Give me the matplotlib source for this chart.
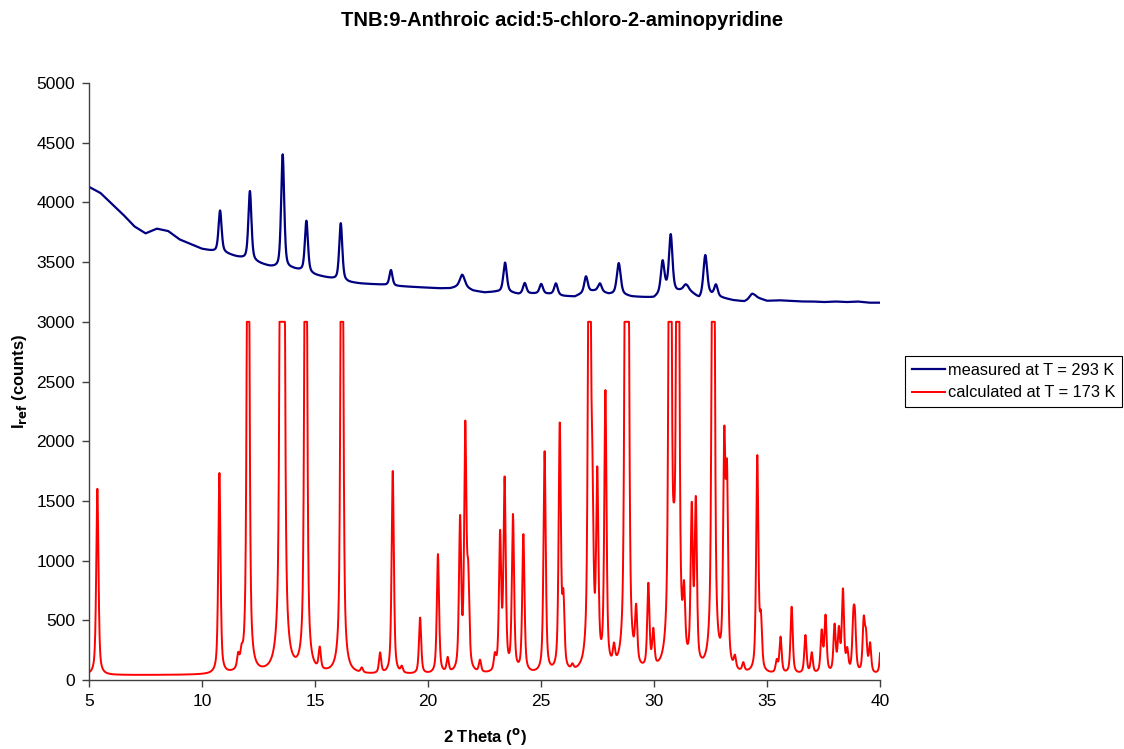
import numpy as np
import matplotlib
matplotlib.use("Agg")
import matplotlib.pyplot as plt

plt.rcParams['font.family'] = ['Liberation Sans', 'DejaVu Sans']

# ---------------- data ----------------
# measured pattern (T = 293 K): background points (2theta, counts) and peaks
meas_bg_x = [5.0, 5.5, 6.0, 6.5, 7.0, 7.5, 8.0, 8.5, 9.0, 9.5, 10.0, 10.5, 11.0, 11.5,
             12.0, 12.5, 13.0, 13.5, 14.0, 14.5, 15.0, 15.5, 16.0, 16.5, 17.0, 17.5,
             18.0, 18.5, 19.0, 19.5, 20.0, 20.5, 21.0, 21.5, 22.0, 22.5, 23.0, 23.5,
             24.0, 24.5, 25.0, 25.5, 26.0, 26.5, 27.0, 27.5, 28.0, 28.5, 29.0, 29.5,
             30.0, 30.5, 31.0, 31.5, 32.0, 32.5, 33.0, 33.5, 34.0, 34.5, 35.0, 35.5,
             36.0, 36.5, 37.0, 37.5, 38.0, 38.5, 39.0, 39.5, 40.0]
meas_bg_y = [4130, 4080, 3990, 3900, 3800, 3740, 3780, 3760, 3690, 3650, 3610, 3590, 3575, 3545,
             3520, 3490, 3460, 3440, 3440, 3420, 3390, 3370, 3350, 3330, 3320, 3315,
             3310, 3300, 3295, 3290, 3285, 3280, 3280, 3300, 3260, 3245, 3250, 3250,
             3230, 3235, 3235, 3230, 3215, 3210, 3250, 3260, 3230, 3230, 3210, 3205,
             3200, 3260, 3250, 3270, 3190, 3220, 3200, 3180, 3170, 3205, 3175, 3180,
             3175, 3170, 3170, 3165, 3170, 3165, 3170, 3160, 3160]
meas_pk_pos = [10.80, 12.12, 13.57, 14.62, 16.14, 18.36, 21.52, 23.41, 24.28, 25.01,
               25.66, 26.99, 27.61, 28.44, 30.38, 30.74, 31.40, 32.27, 32.74, 34.34]
meas_pk_h = [350, 580, 960, 430, 480, 130, 95, 245, 90, 80,
             95, 130, 65, 260, 255, 470, 40, 350, 95, 40]
meas_pk_w = [0.08, 0.08, 0.08, 0.08, 0.08, 0.08, 0.13, 0.09, 0.09, 0.09,
             0.09, 0.09, 0.09, 0.10, 0.09, 0.09, 0.11, 0.10, 0.09, 0.13]

# calculated pattern (T = 173 K): peak positions and heights (plot clipped at 3000)
calc_pk_pos = [5.37, 10.77, 11.60, 11.75, 12.04, 13.50, 13.60, 14.59, 15.21, 16.19,
               17.07, 17.88, 18.44, 18.84, 19.65, 20.44, 20.87, 21.42, 21.65, 21.78,
               22.30, 22.96, 23.19, 23.39, 23.76, 24.22, 25.16, 25.83, 25.99, 26.39,
               27.14, 27.27, 27.49, 27.85, 28.23, 28.75, 28.84, 29.21, 29.75, 29.97,
               30.71, 30.88, 31.05, 31.33, 31.67, 31.85, 32.62, 33.11, 33.23, 33.58,
               33.95, 34.57, 34.73, 35.43, 35.60, 36.09, 36.70, 36.98, 37.42, 37.59,
               37.99, 38.18, 38.36, 38.55, 38.82, 38.89, 39.28, 39.38, 39.56, 40.05]
calc_pk_h = [1560, 1680, 110, 100, 6000, 7000, 7000, 6500, 180, 6500,
             40, 170, 1700, 50, 470, 1000, 120, 1250, 2000, 700,
             100, 120, 1120, 1580, 1300, 1150, 1850, 2050, 550, 40,
             6000, 1200, 1550, 2300, 150, 5000, 5000, 450, 700, 300,
             8000, 400, 8000, 500, 1280, 1350, 8000, 1800, 1500, 100,
             70, 1800, 400, 100, 300, 560, 320, 170, 340, 470, 390,
             340, 680, 170, 380, 380, 420, 280, 240, 300]
calc_bg = 40
calc_clip = 3000
calc_hw = 0.058

y_ticks = [0, 500, 1000, 1500, 2000, 2500, 3000, 3500, 4000, 4500, 5000]
x_ticks = [5, 10, 15, 20, 25, 30, 35, 40]


def pvoigt(x, pos, h, hw, eta=0.6):
    d = (x - pos) / hw
    lor = 1.0 / (1.0 + d * d)
    gau = np.exp(-np.log(2) * d * d)
    return h * (eta * lor + (1 - eta) * gau)


x = np.linspace(5, 40, 7001)

meas = np.interp(x, meas_bg_x, meas_bg_y)
for p, h, w in zip(meas_pk_pos, meas_pk_h, meas_pk_w):
    meas = meas + pvoigt(x, p, h, w, eta=0.5)

calc = np.full_like(x, calc_bg, dtype=float)
for p, h in zip(calc_pk_pos, calc_pk_h):
    calc = calc + pvoigt(x, p, h, calc_hw)
calc = np.minimum(calc, calc_clip)

# ---------------- figure ----------------
fig = plt.figure(figsize=(11.24, 7.49), dpi=100)
ax = fig.add_axes([89 / 1124, 69 / 749, (880 - 89) / 1124, (680 - 83) / 749])

l1, = ax.plot(x, meas, color='#000080', lw=1.6, label='measured at T = 293 K')
l2, = ax.plot(x, calc, color='#FF0000', lw=1.4, label='calculated at T = 173 K')

ax.set_xlim(5, 40)
ax.set_ylim(0, 5000)
ax.set_xticks(x_ticks)
ax.set_yticks(y_ticks)
ax.tick_params(axis='both', direction='out', length=5, width=1, labelsize=12.5,
               colors='#404040', labelcolor='black', pad=5)
for s in ['top', 'right']:
    ax.spines[s].set_visible(False)
for s in ['left', 'bottom']:
    ax.spines[s].set_color('#404040')
    ax.spines[s].set_linewidth(1)

ax.set_xlabel('2 Theta ($\\mathbf{^o}$)', fontsize=12, fontweight='bold', labelpad=12)
ax.set_ylabel('I$_{\\mathbf{ref}}$ (counts)', fontsize=12, fontweight='bold', labelpad=5)

fig.text(0.5, 1 - 20 / 749, 'TNB:9-Anthroic acid:5-chloro-2-aminopyridine',
         ha='center', va='center', fontsize=14.5, fontweight='bold')

leg = fig.legend(handles=[l1, l2], loc='upper left',
                 bbox_to_anchor=(905 / 1124, 1 - 356 / 749), fontsize=11.8,
                 frameon=True, fancybox=False, edgecolor='black', framealpha=1,
                 borderpad=0.42, handlelength=2.0, handletextpad=0.2, labelspacing=0.45,
                 borderaxespad=0)
leg.get_frame().set_linewidth(0.8)

fig.savefig('out.png', dpi=100)
